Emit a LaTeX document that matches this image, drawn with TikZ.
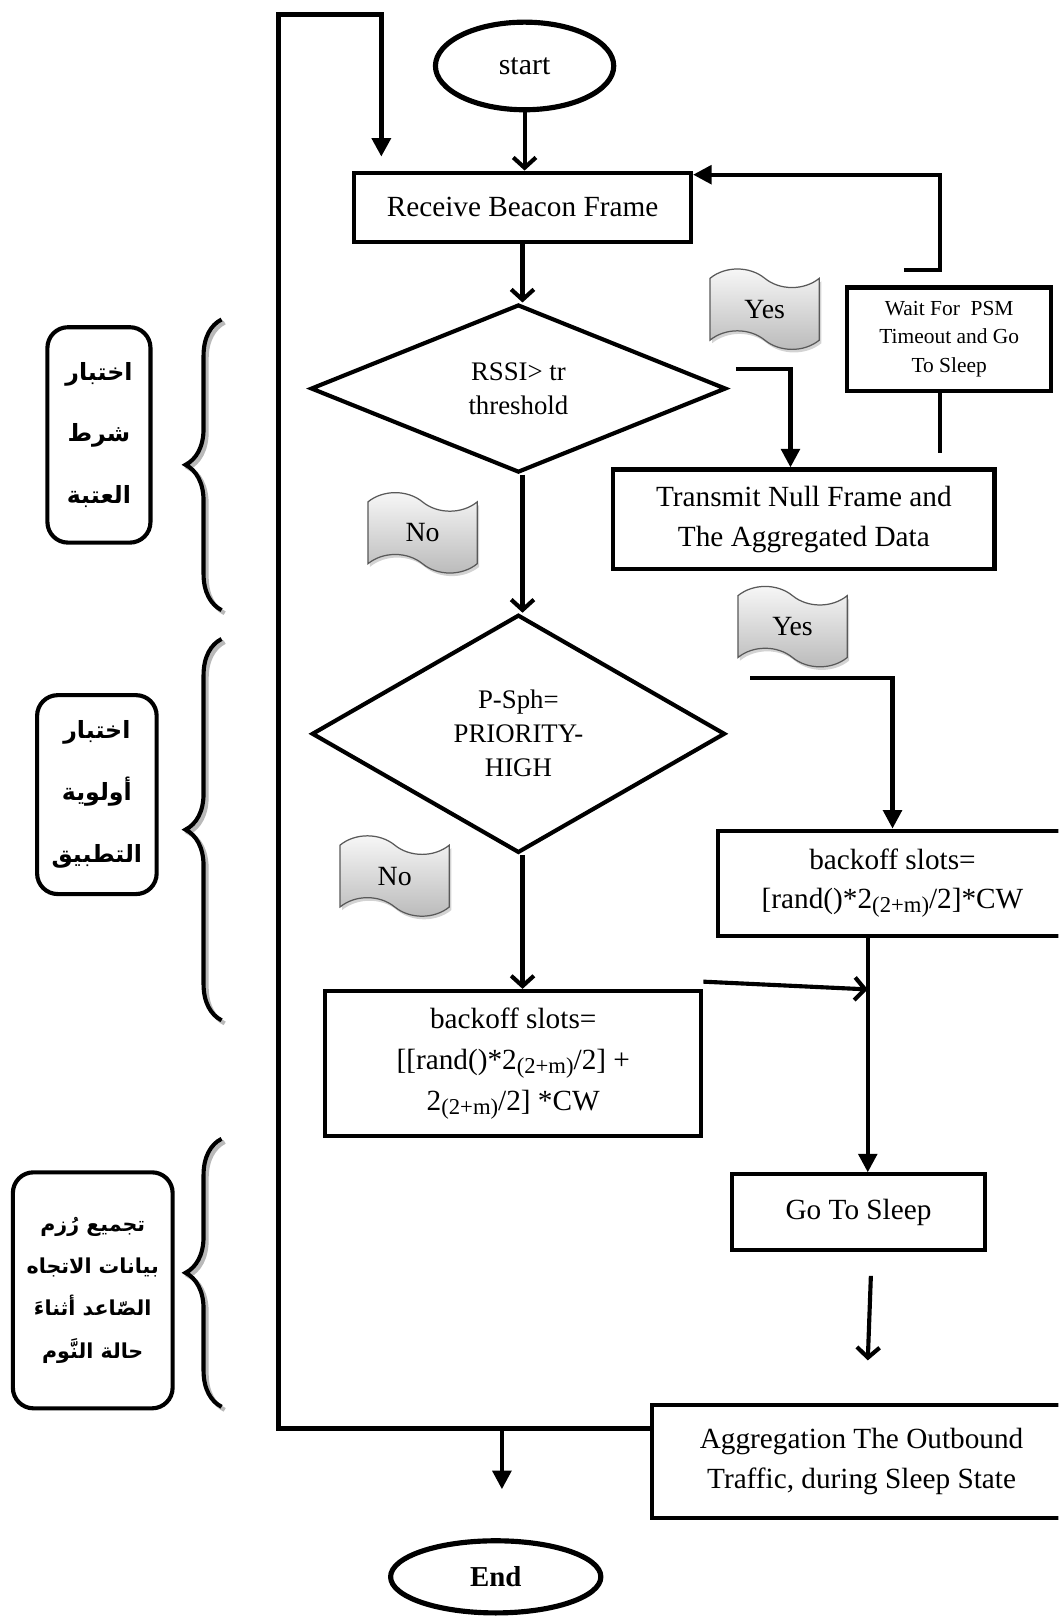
\documentclass[tikz,border=0pt]{standalone}
\usepackage{fontspec}
\setmainfont{Liberation Serif}
\newfontfamily\arabicfont[Script=Arabic]{DejaVu Sans}
\TeXXeTstate=1
\usetikzlibrary{calc, positioning}
\usetikzlibrary{arrows.meta}
\usetikzlibrary{shapes.geometric, shapes.symbols}
\usetikzlibrary{shadows}
\usetikzlibrary{decorations.pathreplacing}
\newcommand{\lowtext}[1]{\raisebox{-2pt}{\fontsize{11}{11}\selectfont #1}}

\begin{document}
\begin{tikzpicture}[x=0.5pt, y=-0.5pt,
  box/.style={draw, line width=2pt, align=center, inner sep=0pt,
    font=\fontsize{14.2}{19}\selectfont},
  term/.style={ellipse, draw, line width=2.5pt, inner sep=0pt,
    font=\fontsize{14.5}{17}\selectfont},
  decision/.style={diamond, draw, line width=2pt, aspect=2, inner sep=0pt,
    align=center, font=\fontsize{13}{16.5}\selectfont},
  flag/.style={tape, draw=gray!70!black, line width=0.6pt, top color=gray!5,
    bottom color=gray!55, drop shadow={opacity=0.35, shadow xshift=1pt, shadow yshift=-1.5pt},
    minimum width=53pt, minimum height=39pt, tape bend height=9pt,
    tape bend top=out and in, tape bend bottom=out and in,
    font=\fontsize{13.5}{16}\selectfont},
  note/.style={draw, line width=2pt, rounded corners=10pt, align=center,
    inner sep=0pt, font=\arabicfont\bfseries\fontsize{11.5}{30}\selectfont},
  tri/.style={line width=2pt, -{Triangle[length=9pt, width=9pt]}},
  vee/.style={line width=2pt, -{Straight Barb[length=5pt, width=11pt]}},
  curly/.style={decorate, decoration={brace, amplitude=17.5pt}, line width=2pt}]

\useasboundingbox (0,0) rectangle (1027,1568);
\clip (0,0) rectangle (1027,1568);

% flow
\node[term, minimum width=86.5pt, minimum height=42.5pt] (start) at (509,64) {start};
\node[box, minimum width=163.5pt, minimum height=33.5pt] (recv) at (507,201) {Receive Beacon Frame};
\node[decision, minimum width=201.5pt, minimum height=81.5pt] (rssi) at (503,377) {RSSI> tr\\threshold};
\node[box, minimum width=99pt, minimum height=50pt, font=\fontsize{10.4}{13.8}\selectfont] (wait) at (921,329) {Wait For~ PSM\\Timeout and Go\\To Sleep};
\node[box, minimum width=185pt, minimum height=48.5pt] (trans) at (780,504) {Transmit Null Frame and\\The Aggregated Data};
\node[decision, minimum width=200.5pt, minimum height=115.5pt] (prio) at (503,712) {P-Sph=\\PRIORITY-\\HIGH};
\node[box, minimum width=169pt, minimum height=51pt] (boffA) at (866,857) {backoff slots=\\{}[rand()*2\lowtext{(2+m)}/2]*CW};
\node[box, minimum width=182.5pt, minimum height=70.5pt, font=\fontsize{14.2}{20}\selectfont] (boffB) at (498,1032) {backoff slots=\\{}[[rand()*2\lowtext{(2+m)}/2] +\\2\lowtext{(2+m)}/2] *CW};
\node[box, minimum width=123pt, minimum height=36.5pt] (sleep) at (833,1176) {Go To Sleep};
\node[box, minimum width=203pt, minimum height=55pt] (aggr) at (836,1418) {Aggregation The Outbound\\Traffic, during Sleep State};
\node[term, minimum width=102pt, minimum height=35pt, font=\fontsize{14}{17}\bfseries\selectfont] (end) at (481,1530) {End};

% yes / no
\node[flag] (yesA) at (742,300) {Yes};
\node[flag] (noA) at (410,517) {No};
\node[flag] (yesB) at (769,608) {Yes};
\node[flag] (noB) at (383,850) {No};

% arabic notes
\node[note, minimum width=50pt, minimum height=104.5pt] (noteA) at (96,422)
  {\beginR اختبار\endR\\\beginR شرط\endR\\\beginR العتبة\endR};
\node[note, minimum width=58pt, minimum height=96.5pt] (noteB) at (94,771)
  {\beginR اختبار\endR\\\beginR أولوية\endR\\\beginR التطبيق\endR};
\node[note, minimum width=77.5pt, minimum height=114.5pt, font=\arabicfont\bfseries\fontsize{10}{20.5}\selectfont] (noteC) at (90,1252)
  {\beginR تجميع رُزم\endR\\\beginR بيانات الاتجاه\endR\\\beginR الصّاعد أثناءَ\endR\\\beginR حالة النَّوم\endR};

% braces
\foreach \ya/\yb in {592/310, 990/620, 1365/1105} {
  \draw[curly, gray!55] (218,\ya+3) -- (218,\yb+3);
  \draw[curly] (215,\ya) -- (215,\yb);
}

% connectors
\coordinate (loopTL) at (270,14);
\coordinate (loopTR) at (370,14);
\coordinate (loopEnd) at (370,152);
\coordinate (aggIn) at ([yshift=-12.5pt]aggr.north west);
\coordinate (endTop) at (487,1445);
\coordinate (yesAa) at (714,358);
\coordinate (yesAb) at (767,358);
\coordinate (waitA) at (877,262);
\coordinate (waitB) at (912,262);
\coordinate (yesBa) at (728,658);
\coordinate (vx) at (842,960);
\coordinate (sleepA) at (845,1238);
\coordinate (sleepB) at (842,1320);

\draw[vee] (start.south) -- (start.south |- recv.north);
\draw[vee] (recv.south) -- (recv.south |- rssi.north);
\draw[vee] (recv.south |- rssi.south) -- (recv.south |- prio.north);
\draw[vee] (recv.south |- prio.south) -- (recv.south |- boffB.north);
\draw[tri] (yesAa) -- (yesAb) -- (yesAb |- trans.north);
\draw[line width=2pt] (wait.south -| waitB) -- ++(0,59);
\draw[tri] (waitA) -- (waitB) |- ([yshift=-2pt]recv.north east);
\draw[tri] (yesBa) -| (boffA.north);
\draw[tri] (boffA.south -| vx) -- (vx |- sleep.north);
\draw[vee] ([yshift=3.5pt]boffB.north east) -- (vx);
\draw[vee] (sleepA) -- (sleepB);
\draw[tri, line width=2.5pt] (aggIn) -- (aggIn -| loopTL) -- (loopTL) -- (loopTR) -- (loopEnd);
\draw[tri] (endTop |- aggIn) -- (endTop);

\end{tikzpicture}
\end{document}
